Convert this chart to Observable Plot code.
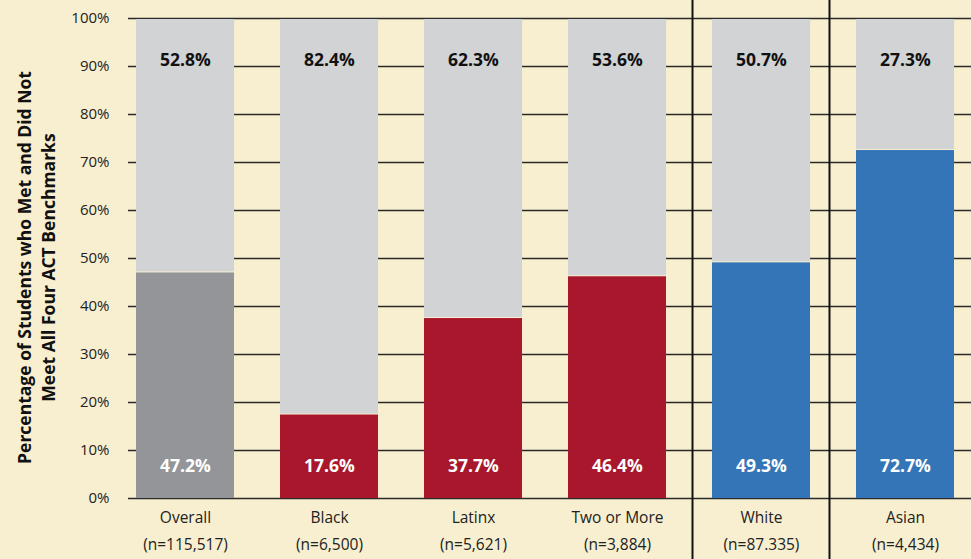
<!DOCTYPE html>
<html>
<head>
<meta charset="utf-8">
<script src="https://cdn.jsdelivr.net/npm/d3@7"></script>
<script src="https://cdn.jsdelivr.net/npm/@observablehq/plot@0.6"></script>
<style>
  html, body { margin: 0; padding: 0; background: #f8efd0; }
  #chart svg { display: block; }
</style>
</head>
<body>
<div id="chart"></div>
<script>
const groups = ["Overall", "Black", "Latinx", "Two or More", "White", "Asian"];
const sampleSizes = ["(n=115,517)", "(n=6,500)", "(n=5,621)", "(n=3,884)", "(n=87.335)", "(n=4,434)"];
const metValues = [47.2, 17.6, 37.7, 46.4, 49.3, 72.7];
const notMetValues = [52.8, 82.4, 62.3, 53.6, 50.7, 27.3];
const yTicks = [0, 10, 20, 30, 40, 50, 60, 70, 80, 90, 100];
const yTitle = "Percentage of Students who Met and Did Not\nMeet All Four ACT Benchmarks";

const metColor = {Overall: "#939598", Black: "#a8172b", Latinx: "#a8172b", "Two or More": "#a8172b", White: "#3475b8", Asian: "#3475b8"};
const notMetColor = "#d1d3d4";

const rows = [];
groups.forEach((g, i) => {
  rows.push({group: g, status: "Met", value: metValues[i], fill: metColor[g]});
  rows.push({group: g, status: "Not met", value: notMetValues[i], fill: notMetColor});
});
const summary = groups.map((g, i) => ({group: g, met: metValues[i], notMet: notMetValues[i]}));
const labelOf = Object.fromEntries(groups.map((g, i) => [g, g + "\n" + sampleSizes[i]]));

const font = "'Open Sans', Lato, sans-serif";

const chart = Plot.plot({
  width: 971,
  height: 559,
  marginLeft: 128,
  marginRight: 0,
  marginTop: 18,
  marginBottom: 61,
  style: {background: "#f8efd0", fontFamily: font, color: "#222"},
  x: {domain: groups, range: [112, 977], paddingInner: 0.32, paddingOuter: 0.16, label: null},
  y: {domain: [0, 100], label: null},
  marks: [
    Plot.ruleY(yTicks, {stroke: "#2b2b2b", strokeWidth: 1.3}),
    Plot.barY(rows, {x: "group", y: "value", fill: "fill", z: "status", order: ["Met", "Not met"], insetTop: 1}),
    Plot.text(summary, {x: "group", frameAnchor: "top", dy: 35, text: d => d.notMet.toFixed(1) + "%", fill: "#111", fontWeight: "bold", fontSize: 17.5}),
    Plot.text(summary, {x: "group", frameAnchor: "bottom", dy: -27, text: d => d.met.toFixed(1) + "%", fill: "#fff", fontWeight: "bold", fontSize: 17.5}),
    Plot.ruleX(["White"], {x: d => d, dx: -69, stroke: "#111", strokeWidth: 2, insetTop: -18, insetBottom: -61}),
    Plot.ruleX(["Asian"], {x: d => d, dx: -76, stroke: "#111", strokeWidth: 2, insetTop: -18, insetBottom: -61}),
    Plot.axisY({ticks: yTicks, tickSize: 0, tickPadding: 19, tickFormat: d => d + "%", fontSize: 15, fill: "#222", label: null}),
    Plot.axisX({tickSize: 0, tickPadding: 6, tickFormat: d => labelOf[d], lineHeight: 1.7, fontSize: 15.5, fill: "#222", label: null}),
    Plot.text([yTitle], {frameAnchor: "left", dx: -93, dy: 9, rotate: -90, textAnchor: "middle", text: d => d, fontWeight: "bold", fontSize: 17.5, lineHeight: 1.38, fill: "#111"})
  ]
});

document.getElementById("chart").appendChild(chart);
</script>
</body>
</html>
